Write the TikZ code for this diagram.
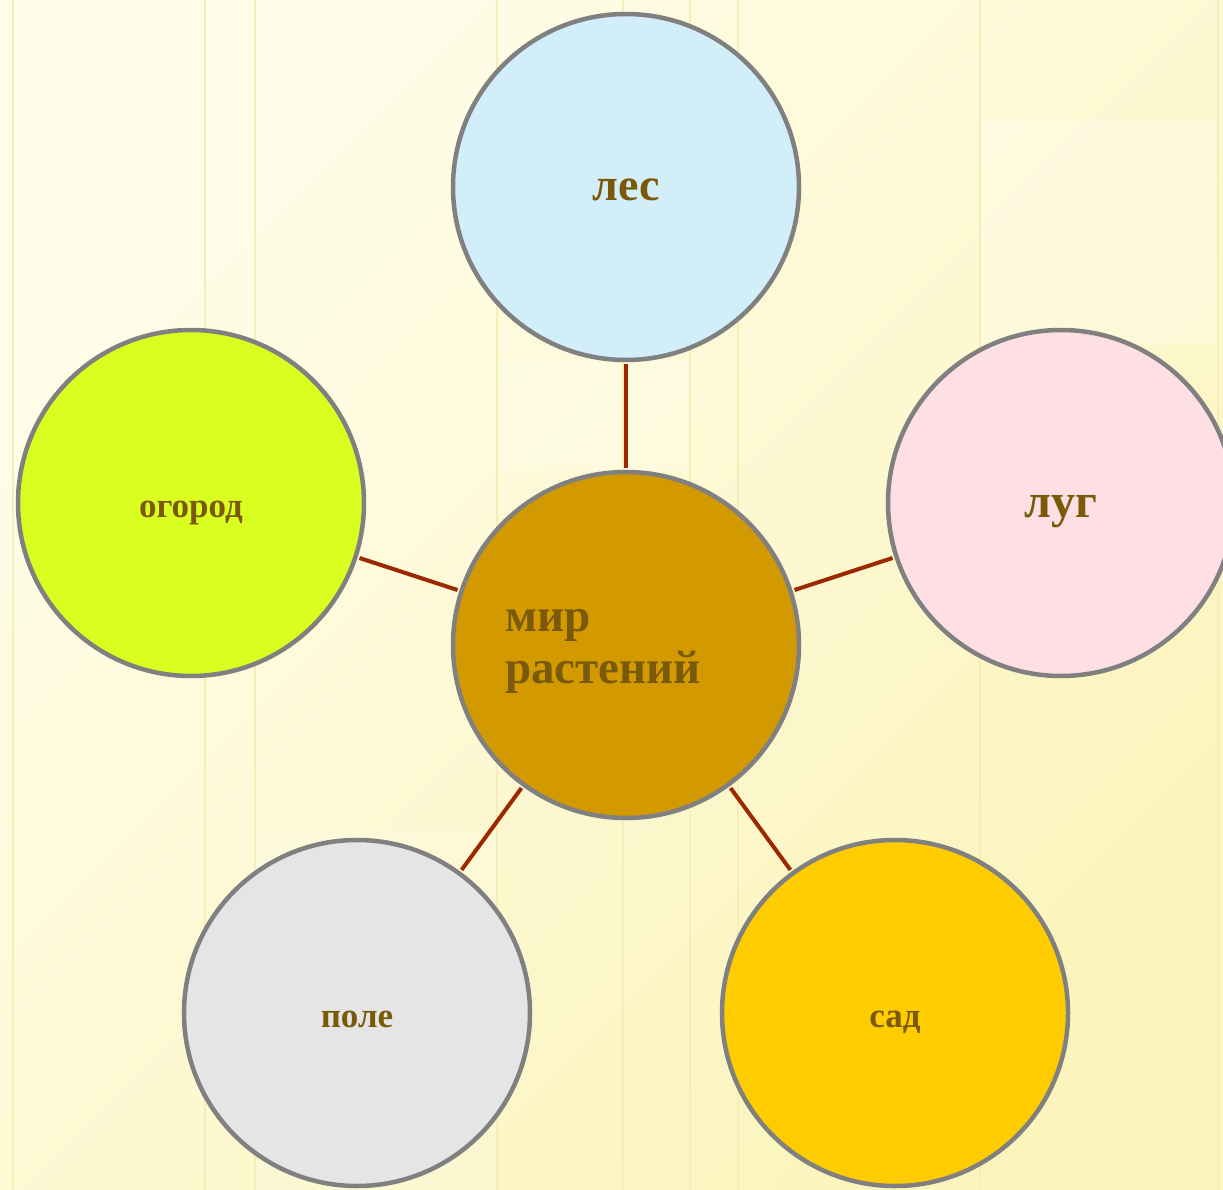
\documentclass[tikz,border=0pt]{standalone}
\usepackage{fontspec}
\setmainfont{Liberation Serif}
\usetikzlibrary{calc}

\definecolor{bglight}{HTML}{FFFDEA}
\definecolor{bgdark}{HTML}{FBF4BC}
\definecolor{stripe}{HTML}{F8EDB8}
\definecolor{circgray}{HTML}{808080}
\definecolor{linkred}{HTML}{9C2800}
\definecolor{labelbrown}{HTML}{7A5A0A}
\definecolor{lesblue}{HTML}{D2EEF9}
\definecolor{lugpink}{HTML}{FEDFE3}
\definecolor{ogorodgreen}{HTML}{D8FF1F}
\definecolor{polegray}{HTML}{E5E5E5}
\definecolor{sadyellow}{HTML}{FFCC00}
\definecolor{mirgold}{HTML}{D29A00}

\begin{document}
\begin{tikzpicture}[x=1pt,y=-1pt,
    topic/.style={circle,draw=circgray,line width=4.5pt,minimum size=346pt,inner sep=0pt,
      text=labelbrown,text height=28pt,text depth=0pt,font=\bfseries\fontsize{35}{40}\selectfont},
    biglabel/.style={font=\bfseries\fontsize{47}{52}\selectfont},
    link/.style={draw=linkred,line width=4pt,shorten <=2pt,shorten >=2pt}]
    \useasboundingbox (0,0) rectangle (1223,1190);
    \clip (0,0) rectangle (1223,1190);

    % background
    \shade[top color=bglight,bottom color=bgdark,shading angle=45] (0,0) rectangle (1223,1190);
    \fill[white,opacity=0.25] (980,120) rectangle (1216,345);
    \fill[white,opacity=0.2] (498,360) rectangle (690,470);
    \fill[white,opacity=0.15] (258,830) rectangle (497,1190);
    \foreach \xs in {13,205,255,497,623,690,738,980,1218}
      \draw[stripe,line width=2pt] (\xs,0) -- (\xs,1190);

    % circles
    \node[topic,fill=mirgold] (mir) at (626,645) {};
    \node[topic,fill=lesblue,font=\bfseries\fontsize{46}{50}\selectfont] (les) at (626,187) {лес};
    \node[topic,fill=lugpink,font=\bfseries\fontsize{48}{52}\selectfont] (lug) at (1061,503) {луг};
    \node[topic,fill=ogorodgreen] (ogorod) at (191,503) {огород};
    \node[topic,fill=polegray] (pole) at (357,1013) {поле};
    \node[topic,fill=sadyellow] (sad) at (895,1013) {сад};

    \node[biglabel,text=labelbrown,align=left,anchor=north west,inner sep=0pt] (mirtext) at (505,609) {мир\\растений};

    % links
    \foreach \leaf in {les,lug,ogorod,pole,sad}
      \draw[link] (mir) -- (\leaf);
\end{tikzpicture}
\end{document}
